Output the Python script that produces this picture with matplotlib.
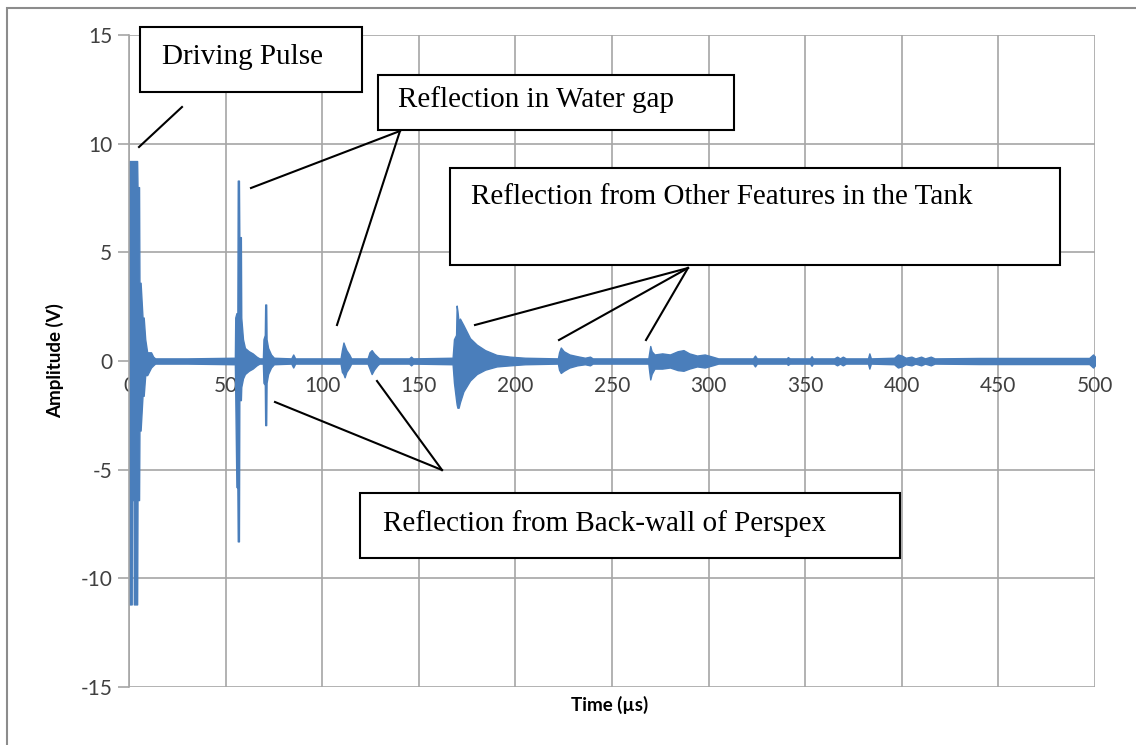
import numpy as np
import matplotlib
matplotlib.use("Agg")
import matplotlib.pyplot as plt
from matplotlib.patches import Rectangle
from matplotlib.lines import Line2D

plt.rcParams['axes.unicode_minus'] = False

# envolvente de la señal: tiempo (µs), máximo y mínimo (V)
t_env = [0.0, 0.1, 1.4, 1.5, 2.4, 2.5, 4.2, 4.4, 5.2, 5.4, 6.0, 7.0, 7.6, 8.4, 9.4, 11.4, 12.5, 13.5,
         30.0, 54.8, 55.0, 55.6, 56.1, 56.3, 56.9, 57.1, 57.9, 58.1, 59.0, 60.0, 62.0, 64.0, 66.0, 67.5,
         69.3, 69.6, 70.3, 70.5, 71.0, 71.2, 72.0, 73.5, 75.0,
         84.0, 85.0, 86.0,
         109.5, 110.2, 111.0, 111.6, 112.5, 114.0, 115.0,
         123.5, 124.5, 125.6, 126.8, 128.5, 129.5,
         145.0, 146.0, 147.0, 167.5,
         168.2, 169.3, 169.6, 170.0, 170.6, 171.3, 173.1, 176.5, 180.0, 184.3, 190.3, 197.2, 205.0,
         222.0, 222.6, 223.5, 225.0, 228.0, 232.0, 236.0, 238.6, 240.0,
         268.8, 269.3, 269.8, 270.5, 272.0, 276.0, 280.0, 284.0, 287.0, 290.0, 294.0, 298.0, 302.0, 305.0,
         323.0, 324.0, 325.0, 340.5, 341.0, 342.0, 352.5, 353.3, 354.0,
         365.0, 366.5, 368.0, 369.5, 371.0, 382.5, 383.2, 384.0,
         396.0, 398.0, 400.0, 402.0, 405.0, 407.0, 410.0, 412.0, 415.0, 417.0,
         440.0, 470.0, 497.0, 499.0, 500.0]
amp_hi = [0.1, 9.2, 9.2, 9.2, 9.2, 9.2, 9.2, 8.0, 8.0, 3.6, 3.6, 2.0, 2.0, 1.0, 0.4, 0.4, 0.2, 0.12,
          0.12, 0.15, 2.0, 2.2, 2.2, 8.3, 8.3, 5.7, 5.7, 2.0, 1.0, 0.6, 0.45, 0.35, 0.2, 0.12,
          0.12, 1.0, 1.2, 2.6, 2.6, 1.0, 0.6, 0.3, 0.15,
          0.12, 0.3, 0.12,
          0.12, 0.5, 0.85, 0.7, 0.5, 0.3, 0.12,
          0.12, 0.4, 0.5, 0.35, 0.2, 0.12,
          0.12, 0.2, 0.12, 0.15,
          1.0, 1.2, 2.55, 2.3, 1.8, 1.95, 1.65, 1.05, 0.75, 0.5, 0.28, 0.2, 0.15,
          0.12, 0.4, 0.62, 0.45, 0.3, 0.22, 0.15, 0.2, 0.12,
          0.12, 0.4, 0.69, 0.45, 0.3, 0.35, 0.3, 0.45, 0.5, 0.35, 0.25, 0.3, 0.2, 0.12,
          0.12, 0.25, 0.12, 0.12, 0.18, 0.12, 0.12, 0.22, 0.12,
          0.12, 0.2, 0.12, 0.2, 0.12, 0.12, 0.35, 0.12,
          0.15, 0.3, 0.25, 0.15, 0.2, 0.12, 0.2, 0.12, 0.2, 0.12,
          0.14, 0.14, 0.14, 0.3, 0.2]
amp_lo = [-0.1, -11.2, -11.2, -6.4, -6.4, -11.2, -11.2, -6.4, -6.4, -3.2, -3.2, -1.6, -1.6, -0.65, -0.65, -0.3, -0.2, -0.12,
          -0.12, -0.15, -1.5, -5.8, -5.8, -8.3, -8.3, -1.8, -1.8, -1.2, -0.8, -0.6, -0.45, -0.35, -0.2, -0.12,
          -0.12, -1.0, -1.1, -2.95, -2.95, -1.0, -0.6, -0.3, -0.15,
          -0.12, -0.3, -0.12,
          -0.12, -0.5, -0.6, -0.75, -0.5, -0.3, -0.12,
          -0.12, -0.35, -0.6, -0.4, -0.2, -0.12,
          -0.12, -0.2, -0.12, -0.15,
          -1.0, -1.8, -2.0, -2.15, -2.15, -1.9, -1.4, -0.9, -0.6, -0.4, -0.25, -0.2, -0.15,
          -0.12, -0.4, -0.55, -0.45, -0.3, -0.2, -0.15, -0.2, -0.12,
          -0.12, -0.5, -0.85, -0.6, -0.35, -0.35, -0.3, -0.42, -0.45, -0.35, -0.25, -0.3, -0.2, -0.12,
          -0.12, -0.25, -0.12, -0.12, -0.18, -0.12, -0.12, -0.22, -0.12,
          -0.12, -0.2, -0.12, -0.2, -0.12, -0.12, -0.35, -0.12,
          -0.15, -0.3, -0.25, -0.15, -0.2, -0.12, -0.2, -0.12, -0.2, -0.12,
          -0.14, -0.14, -0.14, -0.3, -0.2]

x_ticks = [0, 50, 100, 150, 200, 250, 300, 350, 400, 450, 500]
y_ticks = [-15, -10, -5, 0, 5, 10, 15]

W, H = 1136, 745
fig = plt.figure(figsize=(W / 100, H / 100), dpi=100)
ax = fig.add_axes([129 / W, 1 - 687 / H, (1095 - 129) / W, (687 - 35) / H])

gris = '#a6a6a6'
azul = '#4a7ebb'

ax.set_xlim(0, 500)
ax.set_ylim(-15, 15)
ax.set_xticks(x_ticks)
ax.set_yticks(y_ticks)
ax.grid(True, color=gris, lw=1.2)
ax.set_axisbelow(True)
for lado in ['top', 'right', 'bottom']:
    ax.spines[lado].set_visible(False)
ax.spines['left'].set_color(gris)
ax.spines['left'].set_linewidth(1.2)
ax.spines['bottom'].set_position(('data', 0))

ax.fill_between(t_env, amp_lo, amp_hi, color=azul, lw=1.0, edgecolor=azul)

ax.tick_params(axis='y', length=8, color=gris, width=1.2, labelsize=15, labelcolor='#404040', pad=4)
ax.tick_params(axis='x', length=0, labelsize=15, labelcolor='#404040', pad=11)
for lab in ax.get_xticklabels() + ax.get_yticklabels():
    lab.set_family('Lato')

fig.text(610 / W, 1 - 705 / H, 'Time (µs)', ha='center', va='center',
         fontsize=13.5, fontweight='bold', family='Lato')
fig.text(55 / W, 1 - 361 / H, 'Amplitude (V)', ha='center', va='center', rotation=90,
         fontsize=13.5, fontweight='bold', family='Lato')

# marco exterior del gráfico
fig.patches.append(Rectangle((7 / W, -0.1), 1.2, 1 - 8 / H + 0.1, transform=fig.transFigure,
                             fill=False, ec='#8c8c8c', lw=1.5))


def px(x, y):
    return x / W, 1 - y / H


# cuadros de texto
cuadros = [
    (140, 27, 362, 92, 'Driving Pulse', 162, 57),
    (378, 75, 734, 130, 'Reflection in Water gap', 398, 100),
    (450, 168, 1060, 265, 'Reflection from Other Features in the Tank', 471, 197),
    (360, 493, 900, 558, 'Reflection from Back-wall of Perspex', 383, 524),
]
for x0, y0, x1, y1, txt, tx, ty in cuadros:
    fig.patches.append(Rectangle(px(x0, y1), (x1 - x0) / W, (y1 - y0) / H,
                                 transform=fig.transFigure, fc='white', ec='black', lw=1.5, zorder=5))
    fig.text(*px(tx, ty), txt, ha='left', va='center', fontsize=21,
             family='Liberation Serif', zorder=6)

# líneas de señalización
lineas = [
    ((182, 107), (139, 147)),
    ((400, 131), (251, 188)),
    ((400, 131), (337, 325)),
    ((688, 268), (475, 325)),
    ((688, 268), (559, 340)),
    ((688, 268), (646, 340)),
    ((442, 470), (275, 402)),
    ((442, 470), (377, 381)),
]
for a, b in lineas:
    fig.lines.append(Line2D([px(*a)[0], px(*b)[0]], [px(*a)[1], px(*b)[1]],
                            transform=fig.transFigure, color='black', lw=1.5, zorder=6))

fig.savefig('out.png', dpi=100)
